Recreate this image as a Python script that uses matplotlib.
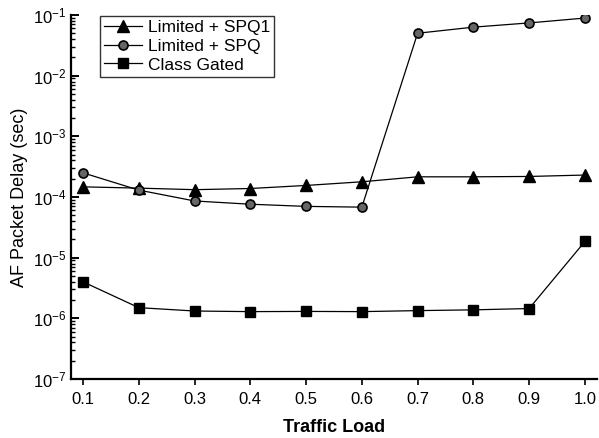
import matplotlib.pyplot as plt

plt.rcParams['font.family'] = ['Liberation Sans', 'DejaVu Sans']
plt.rcParams['mathtext.fontset'] = 'custom'
plt.rcParams['mathtext.rm'] = 'Liberation Sans'
plt.rcParams['mathtext.it'] = 'Liberation Sans'

# traffic load vs AF packet delay (sec)
load = [0.1, 0.2, 0.3, 0.4, 0.5, 0.6, 0.7, 0.8, 0.9, 1.0]
spq1 = [1.47e-4, 1.40e-4, 1.32e-4, 1.38e-4, 1.55e-4, 1.78e-4, 2.15e-4, 2.15e-4, 2.18e-4, 2.3e-4]
spq = [2.5e-4, 1.3e-4, 8.6e-5, 7.6e-5, 7.0e-5, 6.8e-5, 5.0e-2, 6.3e-2, 7.4e-2, 8.9e-2]
gated = [4.0e-6, 1.5e-6, 1.32e-6, 1.29e-6, 1.3e-6, 1.29e-6, 1.34e-6, 1.38e-6, 1.45e-6, 1.85e-5]
yticks = [1e-7, 1e-6, 1e-5, 1e-4, 1e-3, 1e-2, 1e-1]
ylabels = ['$10^{-%d}$' % k for k in range(7, 0, -1)]

fig = plt.figure(figsize=(5.99, 4.38), dpi=100)
ax = fig.add_axes([0.1185, 0.1347, 0.878, 0.8311])

ax.plot(load, spq1, color='black', lw=0.9, marker='^', ms=8.5,
        mfc='black', mec='black', label='Limited + SPQ1')
ax.plot(load, spq, color='black', lw=0.9, marker='o', ms=6.5,
        mfc='#666666', mec='black', mew=1.2, label='Limited + SPQ')
ax.plot(load, gated, color='black', lw=0.9, marker='s', ms=7,
        mfc='black', mec='black', label='Class Gated')

ax.set_yscale('log')
ax.set_ylim(1e-7, 1e-1)
ax.set_xlim(0.0785, 1.0215)
ax.set_xticks(load)
ax.set_xticklabels(['%.1f' % v for v in load], fontsize=12)
ax.set_yticks(yticks)
ax.set_yticklabels(ylabels, fontsize=12)

ax.spines['top'].set_visible(False)
ax.spines['right'].set_visible(False)
ax.spines['left'].set_linewidth(1.6)
ax.spines['bottom'].set_linewidth(1.6)
ax.tick_params(axis='y', which='major', direction='in', length=6, width=1.4)
ax.tick_params(axis='y', which='minor', direction='in', length=3, width=1.0)
ax.tick_params(axis='x', direction='out', length=4, width=1.2, pad=5)

ax.set_xlabel('Traffic Load', fontsize=13, fontweight='bold', labelpad=9)
ax.set_ylabel('AF Packet Delay (sec)', fontsize=13, labelpad=3)

leg = ax.legend(loc='upper left', bbox_to_anchor=(0.045, 1.012), fontsize=12.5,
                frameon=True, fancybox=False, edgecolor='black',
                handlelength=2.2, handletextpad=0.3, borderpad=0.25,
                labelspacing=0.2, borderaxespad=0.3)
leg.get_frame().set_linewidth(1.0)

fig.savefig('out.png', dpi=100)
